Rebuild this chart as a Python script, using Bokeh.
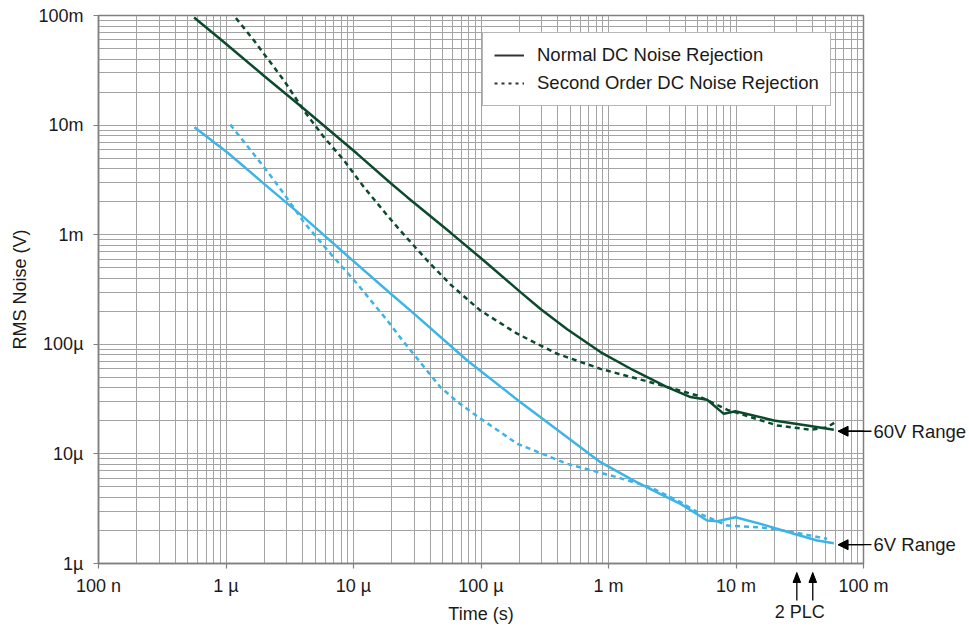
from bokeh.plotting import figure
from bokeh.models import (Range1d, FixedTicker, CustomJSTickFormatter, Legend, LegendItem,
                          Arrow, NormalHead)
from bokeh.core.properties import value
from bokeh.embed import file_html
from bokeh.resources import INLINE

# ---------------- data ----------------
# 60V range, normal DC noise rejection
t_norm_60 = [5.62e-7, 9.4e-7, 1.99e-6, 4.08e-6, 1.07e-5, 1.96e-5, 2.64e-5, 5.79e-5, 1.05e-4,
             2.04e-4, 2.93e-4, 4.74e-4, 8.65e-4, 1.58e-3, 2.88e-3, 4.40e-3, 5.94e-3, 8.02e-3,
             9.9e-3, 1.98e-2, 3.61e-2, 5.85e-2]
v_norm_60 = [0.096, 0.0585, 0.0281, 0.0141, 5.47e-3, 2.95e-3, 2.2e-3, 1.04e-3, 5.82e-4,
             2.99e-4, 2.1e-4, 1.37e-4, 8.5e-5, 5.77e-5, 4.06e-5, 3.3e-5, 3.12e-5, 2.32e-5,
             2.45e-5, 2.02e-5, 1.82e-5, 1.66e-5]
# 60V range, second order DC noise rejection
t_sec_60 = [1.08e-6, 1.66e-6, 2.85e-6, 4.08e-6, 5.86e-6, 8.43e-6, 1.21e-5, 1.84e-5, 2.33e-5,
            3.78e-5, 5.77e-5, 9.91e-5, 1.92e-4, 3.96e-4, 8.65e-4, 2.13e-3, 4.97e-3, 8.57e-3,
            2.10e-2, 3.84e-2, 5.19e-2, 6.03e-2]
v_sec_60 = [0.11, 0.059, 0.0255, 0.0136, 7.76e-3, 4.76e-3, 2.71e-3, 1.5e-3, 1.09e-3,
            5.82e-4, 3.5e-4, 2.03e-4, 1.25e-4, 8.19e-5, 5.97e-5, 4.51e-5, 3.41e-5, 2.52e-5,
            1.82e-5, 1.66e-5, 1.75e-5, 1.95e-5]
# 6V range, normal DC noise rejection
t_norm_6 = [5.66e-7, 1.02e-6, 1.99e-6, 4.08e-6, 9.2e-6, 1.96e-5, 2.80e-5, 7.80e-5, 2.04e-4,
            2.93e-4, 8.65e-4, 1.58e-3, 2.56e-3, 3.67e-3, 5.94e-3, 7.12e-3, 9.9e-3, 1.56e-2,
            2.84e-2, 4.34e-2, 5.85e-2]
v_norm_6 = [9.58e-3, 5.66e-3, 2.91e-3, 1.44e-3, 6.24e-4, 2.89e-4, 2.03e-4, 7.11e-5, 2.96e-5,
            2.16e-5, 8.4e-6, 5.7e-6, 4.3e-6, 3.5e-6, 2.47e-6, 2.43e-6, 2.64e-6, 2.30e-6,
            1.87e-6, 1.62e-6, 1.53e-6]
# 6V range, second order DC noise rejection
t_sec_6 = [1.08e-6, 1.99e-6, 2.85e-6, 4.08e-6, 6.61e-6, 1.07e-5, 1.84e-5, 2.33e-5, 4.81e-5,
           6.5e-5, 8.77e-5, 1.92e-4, 4.74e-4, 1.17e-3, 2.13e-3, 3.67e-3, 5.58e-3, 8.57e-3,
           1.56e-2, 2.84e-2, 5.19e-2]
v_sec_6 = [1.01e-2, 4.13e-3, 2.36e-3, 1.30e-3, 6.70e-4, 3.56e-4, 1.65e-4, 1.15e-4, 4.06e-5,
           3.0e-5, 2.32e-5, 1.24e-5, 8.12e-6, 6.12e-6, 4.97e-6, 3.63e-6, 2.74e-6, 2.22e-6,
           2.14e-6, 1.93e-6, 1.68e-6]

x_ticks = [1e-7, 1e-6, 1e-5, 1e-4, 1e-3, 1e-2, 1e-1]
x_tick_labels = ["100 n", "1 µ", "10 µ", "100 µ", "1 m", "10 m", "100 m"]
y_ticks = [1e-6, 1e-5, 1e-4, 1e-3, 1e-2, 1e-1]
y_tick_labels = ["1µ", "10µ", "100µ", "1m", "10m", "100m"]
legend_labels = ["Normal DC Noise Rejection", "Second Order DC Noise Rejection"]
range_labels = ["60V Range", "6V Range"]
plc_times = [0.03, 0.04]
plc_label = "2 PLC"
x_title = "Time (s)"
y_title = "RMS Noise (V)"

# ---------------- styling ----------------
DARK = "#0b4a2c"
LIGHT = "#3db4e8"
GRID = "#a3a3a3"
FRAME = "#7f7f7f"
FONT = "Liberation Sans"
TXT = "#1a1a1a"
W, H = 968, 628
BL, BR, BT, BB = 98, 105, 15, 65
FW, FH = W - BL - BR, H - BT - BB
PX_Y = FH / 5.0   # pixels per decade (y)
PX_X = FW / 6.0   # pixels per decade (x)

x_minor = [m * 10.0 ** e for e in range(-7, -1) for m in range(2, 10)]
y_minor = [m * 10.0 ** e for e in range(-6, -1) for m in range(2, 10)]

p = figure(width=W, height=H, x_axis_type="log", y_axis_type="log",
           x_range=Range1d(x_ticks[0], x_ticks[-1]), y_range=Range1d(y_ticks[0], y_ticks[-1]),
           output_backend="svg", toolbar_location=None,
           min_border_left=BL, min_border_right=BR, min_border_top=BT, min_border_bottom=BB)
p.outline_line_color = FRAME
p.outline_line_width = 1.5
p.background_fill_color = "white"
p.border_fill_color = "white"

xt = FixedTicker(ticks=x_ticks, minor_ticks=x_minor)
yt = FixedTicker(ticks=y_ticks, minor_ticks=y_minor)
p.xaxis.ticker = xt
p.yaxis.ticker = yt
p.xgrid.ticker = xt
p.ygrid.ticker = yt

fmt_code = """
const lt = Math.log10(tick);
for (let i = 0; i < tvals.length; i++) {
  if (Math.abs(Math.log10(tvals[i]) - lt) < 1e-6) return labs[i];
}
return "";
"""
p.xaxis.formatter = CustomJSTickFormatter(args=dict(tvals=x_ticks, labs=x_tick_labels), code=fmt_code)
p.yaxis.formatter = CustomJSTickFormatter(args=dict(tvals=y_ticks, labs=y_tick_labels), code=fmt_code)

for g in (p.xgrid, p.ygrid):
    g.grid_line_color = GRID
    g.grid_line_width = 1
    g.minor_grid_line_color = GRID
    g.minor_grid_line_width = 1

for ax in (p.xaxis, p.yaxis):
    ax.axis_line_color = FRAME
    ax.axis_line_width = 1.5
    ax.major_tick_line_color = FRAME
    ax.major_tick_line_width = 1.2
    ax.major_tick_out = 5
    ax.major_tick_in = 0
    ax.minor_tick_line_color = None
    ax.major_label_text_font = FONT
    ax.major_label_text_font_size = "18px"
    ax.major_label_text_color = TXT
    ax.axis_label_text_font = FONT
    ax.axis_label_text_font_size = "18px"
    ax.axis_label_text_font_style = "normal"
    ax.axis_label_text_color = TXT

p.xaxis.axis_label = x_title
p.yaxis.axis_label = y_title
p.xaxis.major_label_standoff = 7
p.yaxis.major_label_standoff = 10
p.xaxis.axis_label_standoff = 5
p.yaxis.axis_label_standoff = 5

# ---------------- curves ----------------
LW = 2.5
DASH = "5 4"
p.line(t_norm_60, v_norm_60, line_color=DARK, line_width=LW)
p.line(t_sec_60, v_sec_60, line_color=DARK, line_width=LW, line_dash=DASH)
p.line(t_norm_6, v_norm_6, line_color=LIGHT, line_width=LW)
p.line(t_sec_6, v_sec_6, line_color=LIGHT, line_width=LW, line_dash=DASH)

# legend proxies (dark grey lines, not visible in the plot)
nan = float("nan")
r_leg1 = p.line(x=[nan, nan], y=[nan, nan], line_color="#333333", line_width=2)
r_leg2 = p.line(x=[nan, nan], y=[nan, nan], line_color="#333333", line_width=2, line_dash="3 4")
LEG_H = 68
leg = Legend(items=[LegendItem(label=legend_labels[0], renderers=[r_leg1]),
                    LegendItem(label=legend_labels[1], renderers=[r_leg2])],
             location=(384, FH - 23 - LEG_H))
leg.label_text_font = FONT
leg.label_text_font_size = "18.5px"
leg.label_text_color = TXT
leg.label_height = 20
leg.glyph_height = 20
leg.glyph_width = 30
leg.label_standoff = 13
leg.spacing = 6
leg.padding = 11
leg.margin = 0
leg.border_line_color = "#6e6e6e"
leg.border_line_width = 1
leg.background_fill_color = "white"
leg.background_fill_alpha = 1
p.add_layout(leg)

# ---------------- range annotations (drawn above the frame clip) ----------------
ends = [(t_norm_60[-1], v_norm_60[-1] * 0.97), (t_norm_6[-1], v_norm_6[-1] * 0.97)]
tail_x = x_ticks[-1] * 10 ** (8 / PX_X)
text_x = x_ticks[-1] * 10 ** (10 / PX_X)
for te, ve in ends:
    p.add_layout(Arrow(end=NormalHead(size=10, fill_color="black", line_color="black"),
                       x_start=tail_x, y_start=ve, x_end=te * 1.08, y_end=ve,
                       line_color="black", line_width=1.3))
p.segment(x0=[te * 1.08 for te, _ in ends], y0=[ve for _, ve in ends],
          x1=[tail_x] * 2, y1=[ve for _, ve in ends],
          line_color="black", line_width=1.3, level="overlay")
p.text(x=[text_x] * 2, y=[ve for _, ve in ends], text=range_labels,
       text_font=value(FONT), text_font_size=value("18.5px"), text_color=TXT,
       text_baseline="middle", text_align="left", level="overlay")

# ---------------- 2 PLC markers ----------------
y_lo = y_ticks[0]
tip_y = y_lo / 10 ** (9 / PX_Y)
base_y = y_lo / 10 ** (19 / PX_Y)
tail_y = y_lo / 10 ** (37 / PX_Y)
p.segment(x0=plc_times, y0=[tail_y] * 2, x1=plc_times, y1=[base_y] * 2,
          line_color="black", line_width=1.3, level="overlay")
for tp in plc_times:
    p.patch(x=[tp * 10 ** (-3.8 / PX_X), tp * 10 ** (3.8 / PX_X), tp],
            y=[base_y, base_y, tip_y],
            fill_color="black", line_color="black", line_width=1, level="overlay")
p.text(x=[plc_times[0] * 10 ** (3 / PX_X)], y=[y_lo / 10 ** (48 / PX_Y)], text=[plc_label],
       text_font=value(FONT), text_font_size=value("18px"), text_color=TXT,
       text_baseline="middle", text_align="center", level="overlay")

open("out.html", "w").write(file_html(p, INLINE))
